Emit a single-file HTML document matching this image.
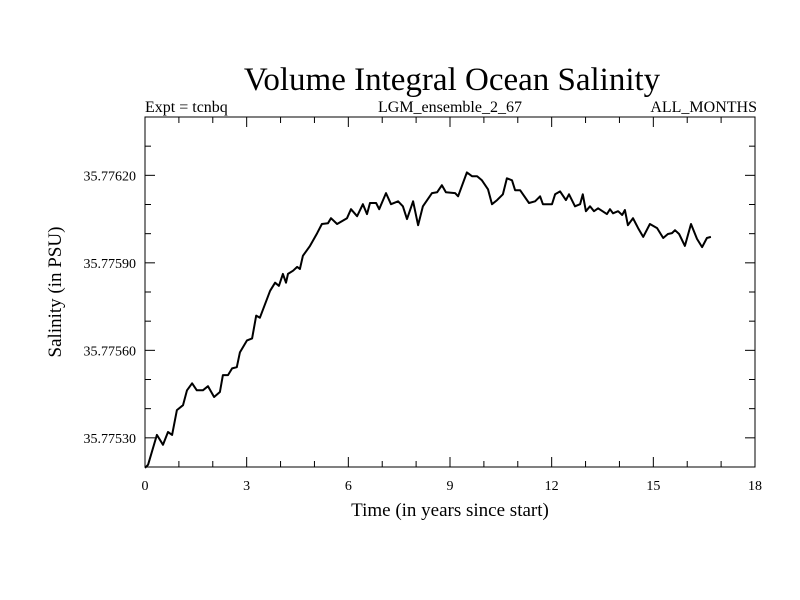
<!DOCTYPE html>
<html><head><meta charset="utf-8"><style>
body{margin:0;background:#fff;}
svg{display:block;font-family:"Liberation Serif",serif;}
</style></head><body>
<svg id="chart" width="800" height="600">
<rect width="800" height="600" fill="#fff"/>
<text x="452" y="90" font-size="33" text-anchor="middle">Volume Integral Ocean Salinity</text>
<text x="145" y="112" font-size="16">Expt = tcnbq</text>
<text x="450" y="112" font-size="16" text-anchor="middle">LGM_ensemble_2_67</text>
<text x="757" y="112" font-size="16" text-anchor="end">ALL_MONTHS</text>
<text x="0" y="0" font-size="19" text-anchor="middle" transform="translate(61,292) rotate(-90)">Salinity (in PSU)</text>
<text x="450" y="516" font-size="19" text-anchor="middle">Time (in years since start)</text>
<g id="axes"></g>
<path id="line" fill="none" stroke="#000" stroke-width="2" stroke-linejoin="round"/>
</svg>
<script>
const years=[0,.09,.35,.53,.68,.80,.94,1.12,1.24,1.39,1.53,1.71,1.86,2.04,2.21,2.30,2.45,2.57,2.71,2.80,3.01,3.16,3.28,3.39,3.69,3.84,3.95,4.07,4.16,4.22,4.37,4.49,4.57,4.66,4.87,5.08,5.22,5.40,5.49,5.67,5.96,6.08,6.26,6.43,6.55,6.64,6.82,6.91,7.11,7.26,7.47,7.61,7.73,7.91,8.06,8.20,8.47,8.62,8.76,8.88,9.15,9.24,9.50,9.65,9.80,9.94,10.12,10.24,10.39,10.56,10.68,10.83,10.92,11.07,11.33,11.51,11.66,11.74,12.01,12.10,12.25,12.42,12.51,12.69,12.84,12.92,13.01,13.13,13.25,13.37,13.63,13.72,13.81,13.96,14.08,14.16,14.25,14.40,14.55,14.70,14.90,15.11,15.29,15.43,15.55,15.64,15.76,15.93,16.11,16.29,16.44,16.58,16.70];
const salinity=[35.775197,35.775208,35.775310,35.775276,35.775320,35.775310,35.775395,35.775412,35.775463,35.775487,35.775463,35.775463,35.775477,35.775440,35.775457,35.775515,35.775515,35.775538,35.775542,35.775593,35.775634,35.775641,35.775719,35.775712,35.775804,35.775832,35.775821,35.775862,35.775832,35.775862,35.775873,35.775886,35.775879,35.775924,35.775958,35.776002,35.776033,35.776036,35.776053,35.776033,35.776053,35.776084,35.776060,35.776101,35.776067,35.776105,35.776105,35.776084,35.776139,35.776101,35.776111,35.776094,35.776050,35.776111,35.776029,35.776094,35.776139,35.776142,35.776166,35.776142,35.776139,35.776128,35.776210,35.776197,35.776197,35.776183,35.776152,35.776101,35.776115,35.776135,35.776190,35.776183,35.776149,35.776149,35.776105,35.776111,35.776128,35.776101,35.776101,35.776135,35.776145,35.776115,35.776135,35.776094,35.776101,35.776135,35.776077,35.776094,35.776077,35.776087,35.776067,35.776084,35.776070,35.776077,35.776064,35.776081,35.776029,35.776053,35.776019,35.775989,35.776033,35.776019,35.775985,35.775999,35.776002,35.776012,35.775999,35.775958,35.776033,35.775982,35.775954,35.775985,35.775989];
const xTicks=[0,3,6,9,12,15,18];
const yTicks=[35.7753,35.7756,35.7759,35.7762];
const yTickLabels=["35.77530","35.77560","35.77590","35.77620"];
const X0=145,X1=755,Y0=467,Y1=117,xMin=0,xMax=18,yMin=35.7752,yMax=35.7764;
const xs=v=>X0+(v-xMin)/(xMax-xMin)*(X1-X0);
const ys=v=>Y0-(v-yMin)/(yMax-yMin)*(Y0-Y1);
const NS='http://www.w3.org/2000/svg';
const ax=document.getElementById('axes');
function mk(t,a){const e=document.createElementNS(NS,t);for(const k in a)e.setAttribute(k,a[k]);ax.appendChild(e);return e;}
const frame=mk('rect',{x:X0,y:Y1,width:X1-X0,height:Y0-Y1,fill:'none',stroke:'#000','stroke-width':1});


for(let v=xMin;v<=xMax;v+=1){const x=xs(v);const L=(v%3===0)?10:6;
 const t1=mk('line',{x1:x,x2:x,y1:Y0,y2:Y0-L,stroke:'#000'});
 
 
 const t2=mk('line',{x1:x,x2:x,y1:Y1,y2:Y1+L,stroke:'#000'});
 
 }
xTicks.forEach(v=>{const t=mk('text',{x:xs(v),y:Y0+23,'font-size':14,'text-anchor':'middle'});t.textContent=v;
 
 });
for(let i=0;i<=12;i++){const v=yMin+i*0.0001;const y=ys(v);const major=yTicks.some(t=>Math.abs(t-v)<1e-7);const L=major?10:6;
 const t1=mk('line',{x1:X0,x2:X0+L,y1:y,y2:y,stroke:'#000'});
 
 
 const t2=mk('line',{x1:X1,x2:X1-L,y1:y,y2:y,stroke:'#000'});
 
 }
yTicks.forEach((v,i)=>{const t=mk('text',{x:X0-9,y:ys(v)+5,'font-size':14,'text-anchor':'end'});t.textContent=yTickLabels[i];
 
 });
document.getElementById('line').setAttribute('d',years.map((t,i)=>(i?'L':'M')+xs(t).toFixed(1)+','+ys(salinity[i]).toFixed(1)).join(''));
</script>
</body></html>
